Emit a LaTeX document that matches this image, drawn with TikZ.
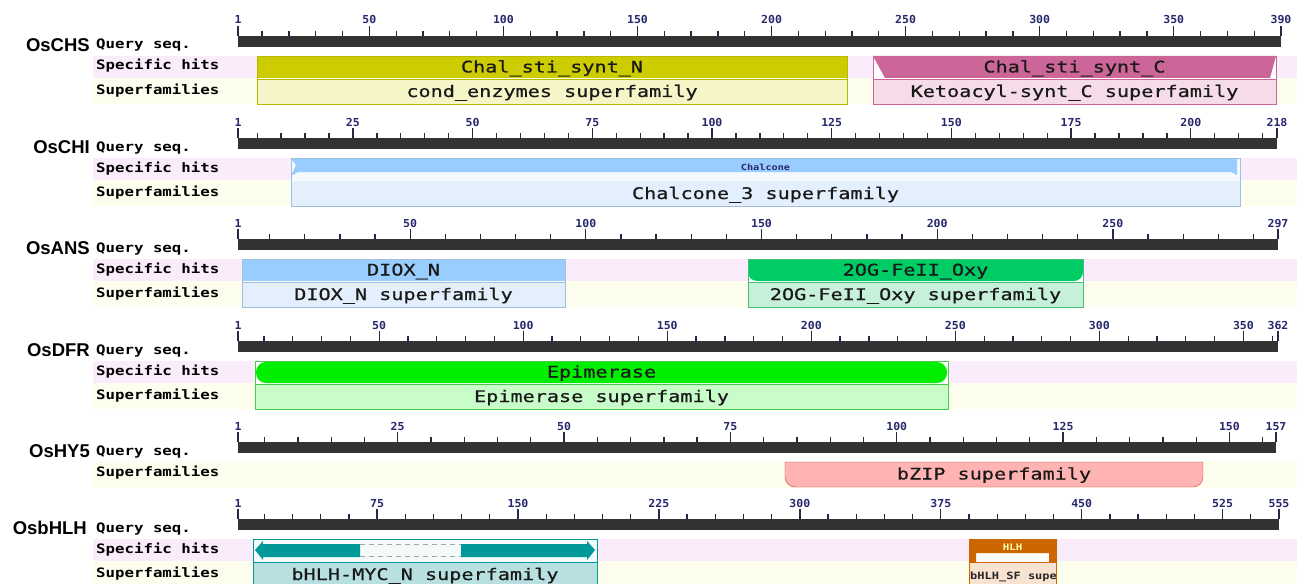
\documentclass[tikz,border=0pt]{standalone}
\usepackage{fontspec}
\setmonofont{DejaVu Sans Mono}
\newfontfamily\genefont{Liberation Sans}
\newfontfamily\labfont[FakeStretch=1.21]{DejaVu Sans Mono Bold}
\newfontfamily\domfont[FakeStretch=1.26,FakeBold=0.6]{DejaVu Sans Mono}
\newfontfamily\tinyfont[FakeStretch=1.2]{DejaVu Sans Mono Bold}
\newfontfamily\numfont[FakeStretch=1.05]{DejaVu Sans Mono Bold}
\definecolor{pinkband}{RGB}{251,236,251}
\definecolor{yelband}{RGB}{254,254,238}
\definecolor{barc}{RGB}{51,51,51}
\definecolor{tickc}{RGB}{40,40,70}
\definecolor{navy}{RGB}{40,40,110}
\definecolor{olivec}{RGB}{204,204,0}
\definecolor{olivel}{RGB}{245,245,200}
\definecolor{olived}{RGB}{185,185,0}
\definecolor{pinkc}{RGB}{204,102,153}
\definecolor{pinkl}{RGB}{245,220,232}
\definecolor{bluec}{RGB}{153,204,255}
\definecolor{bluel}{RGB}{227,239,252}
\definecolor{blued}{RGB}{160,192,224}
\definecolor{greenc}{RGB}{0,204,102}
\definecolor{greenl}{RGB}{198,240,218}
\definecolor{greend}{RGB}{70,190,120}
\definecolor{epic}{RGB}{0,238,0}
\definecolor{epil}{RGB}{200,252,200}
\definecolor{epid}{RGB}{70,204,70}
\definecolor{bzipc}{RGB}{255,179,179}
\definecolor{bzipd}{RGB}{200,70,70}
\definecolor{tealc}{RGB}{0,153,153}
\definecolor{teall}{RGB}{184,224,224}
\definecolor{hlhc}{RGB}{204,102,0}
\definecolor{hlhl}{RGB}{248,226,208}
\tikzset{
  gene/.style={font=\genefont\bfseries\fontsize{18.5}{18.5}\selectfont, anchor=base east, inner sep=0},
  rowlab/.style={font=\labfont\fontsize{13}{13}\selectfont, anchor=base west, inner sep=0},
  dom/.style={font=\domfont\fontsize{16}{16}\selectfont, anchor=base, inner sep=0, text=black!90},
  ticklab/.style={font=\numfont\fontsize{11}{11}\selectfont, text=navy, inner sep=0, anchor=base},
  tickline/.style={draw=tickc, line width=1.3},
  tinylab/.style={font=\tinyfont\fontsize{8.5}{8.5}\selectfont, anchor=base, inner sep=0},
}
% #1 name, #2 top of bar, #3 x end, #4 length, #5 minor step, #6 major step
\newcommand{\ruler}[6]{%
  \pgfmathsetmacro{\rsc}{(#3-238)/(#4-1)}%
  \fill[barc] (238,#2) rectangle (#3,#2+11);
  \draw[tickline] (238,#2) -- (238,#2-10);
  \node[ticklab] (#1-t1) at (238,#2-12) {1};
  \pgfmathtruncatemacro{\rnt}{floor((#4-1)/#5)}%
  \foreach \i in {1,...,\rnt}{%
    \pgfmathtruncatemacro{\rv}{\i*#5}%
    \pgfmathsetmacro{\rx}{238+(\rv-1)*\rsc}%
    \pgfmathtruncatemacro{\ism}{mod(\rv,#6)==0 ? 1 : 0}%
    \ifnum\ism=1
      \draw[tickline] (\rx,#2) -- (\rx,#2-10);
      \node[ticklab] (#1-t\rv) at (\rx,#2-12) {\rv};
    \else
      \draw[tickline] (\rx,#2) -- (\rx,#2-5);
    \fi
  }
  \draw[tickline] (#3,#2) -- (#3,#2-10);
  \node[ticklab] (#1-tend) at (#3,#2-12) {#4};
}
\begin{document}
\begin{tikzpicture}[x=1pt,y=-1pt]
\useasboundingbox (0,0) rectangle (1297,583);
\clip (0,0) rectangle (1297,583);
\fill[white] (0,0) rectangle (1297,583);

% ---------------- OsCHS ----------------
\def\T{36}
\fill[pinkband] (93,\T+20) rectangle (1297,\T+42);
\fill[yelband] (93,\T+42) rectangle (1297,\T+68);
\ruler{chs}{\T}{1281}{390}{10}{50}
\node[gene] (chs-g) at (90,\T+15.5) {OsCHS};
\node[rowlab] (chs-q) at (96,\T+13) {Query seq.};
\node[rowlab] (chs-s) at (96,\T+34) {Specific hits};
\node[rowlab] (chs-f) at (96,\T+58.5) {Superfamilies};
\fill[olivec] (257,\T+20) rectangle (847,\T+42);
\filldraw[draw=olived, fill=olivel] (257,\T+43) rectangle (847,\T+68);
\draw[olived] (257,\T+20) rectangle (847,\T+68);
\node[dom] (chs-d1) at (552,\T+36.5) {Chal\_sti\_synt\_N};
\node[dom] (chs-d2) at (552,\T+61) {cond\_enzymes superfamily};
\fill[white] (873,\T+20) rectangle (1276,\T+43);
\fill[pinkc] (873,\T+20) -- (1276,\T+20) -- (1270,\T+42) -- (885,\T+42) -- cycle;
\filldraw[draw=pinkc, fill=pinkl] (873,\T+43) rectangle (1276,\T+68);
\draw[pinkc] (873,\T+20) rectangle (1276,\T+68);
\node[dom] (chs-d3) at (1074.5,\T+36.5) {Chal\_sti\_synt\_C};
\node[dom] (chs-d4) at (1074.5,\T+61) {Ketoacyl-synt\_C superfamily};

% ---------------- OsCHI ----------------
\def\T{138}
\fill[pinkband] (93,\T+20) rectangle (1297,\T+42);
\fill[yelband] (93,\T+42) rectangle (1297,\T+68);
\ruler{chi}{\T}{1277}{218}{5}{25}
\node[gene] (chi-g) at (90,\T+15.5) {OsCHI};
\node[rowlab] (chi-q) at (96,\T+13) {Query seq.};
\node[rowlab] (chi-s) at (96,\T+34) {Specific hits};
\node[rowlab] (chi-f) at (96,\T+58.5) {Superfamilies};
\fill[white!60!bluel] (291,\T+20) rectangle (1240,\T+43);
\fill[bluec] (291,\T+21) -- (1237,\T+21) -- (1237,\T+37) -- (1231,\T+34) -- (298,\T+34) -- (291,\T+38) -- (296,\T+27) -- cycle;
\fill[bluel] (291,\T+43) rectangle (1240,\T+68);
\draw[blued] (291,\T+20) rectangle (1240,\T+68);
\node[tinylab, text=navy] (chi-d1) at (765.5,\T+32) {Chalcone};
\node[dom] (chi-d2) at (765.5,\T+61) {Chalcone\_3 superfamily};

% ---------------- OsANS ----------------
\def\T{239}
\fill[pinkband] (93,\T+20) rectangle (1297,\T+42);
\fill[yelband] (93,\T+42) rectangle (1297,\T+68);
\ruler{ans}{\T}{1278}{297}{10}{50}
\node[gene] (ans-g) at (90,\T+15.5) {OsANS};
\node[rowlab] (ans-q) at (96,\T+13) {Query seq.};
\node[rowlab] (ans-s) at (96,\T+34) {Specific hits};
\node[rowlab] (ans-f) at (96,\T+58.5) {Superfamilies};
\fill[bluec] (242,\T+20) rectangle (565,\T+42);
\filldraw[draw=blued, fill=bluel] (242,\T+43) rectangle (565,\T+68);
\draw[blued] (242,\T+20) rectangle (565,\T+68);
\node[dom] (ans-d1) at (403.5,\T+36.5) {DIOX\_N};
\node[dom] (ans-d2) at (403.5,\T+61) {DIOX\_N superfamily};
\fill[white] (748,\T+20) rectangle (1083,\T+43);
\fill[greenc] (748,\T+20) -- (1083,\T+20) -- (1083,\T+33) arc[start angle=0,end angle=90,radius=9] -- (757,\T+42) arc[start angle=90,end angle=180,radius=9] -- cycle;
\filldraw[draw=greend, fill=greenl] (748,\T+43) rectangle (1083,\T+68);
\draw[greend] (748,\T+20) rectangle (1083,\T+68);
\node[dom] (ans-d3) at (915.5,\T+36.5) {2OG-FeII\_Oxy};
\node[dom] (ans-d4) at (915.5,\T+61) {2OG-FeII\_Oxy superfamily};

% ---------------- OsDFR ----------------
\def\T{341}
\fill[pinkband] (93,\T+20) rectangle (1297,\T+42);
\fill[yelband] (93,\T+42) rectangle (1297,\T+68);
\ruler{dfr}{\T}{1278}{362}{10}{50}
\node[gene] (dfr-g) at (90,\T+15.5) {OsDFR};
\node[rowlab] (dfr-q) at (96,\T+13) {Query seq.};
\node[rowlab] (dfr-s) at (96,\T+34) {Specific hits};
\node[rowlab] (dfr-f) at (96,\T+58.5) {Superfamilies};
\fill[white] (255,\T+20) rectangle (948,\T+43);
\fill[epic, rounded corners=10] (256,\T+21) rectangle (947,\T+42);
\filldraw[draw=epid, fill=epil] (255,\T+43) rectangle (948,\T+68);
\draw[epid] (255,\T+20) rectangle (948,\T+68);
\node[dom] (dfr-d1) at (601.5,\T+36.5) {Epimerase};
\node[dom] (dfr-d2) at (601.5,\T+61) {Epimerase superfamily};

% ---------------- OsHY5 ----------------
\def\T{442}
\fill[yelband] (93,\T+19) rectangle (1297,\T+46);
\ruler{hy5}{\T}{1276}{157}{5}{25}
\node[gene] (hy5-g) at (90,\T+15.5) {OsHY5};
\node[rowlab] (hy5-q) at (96,\T+13) {Query seq.};
\node[rowlab] (hy5-f) at (96,\T+34) {Superfamilies};
\filldraw[draw=bzipd, fill=bzipc] (785,\T+20) -- (1203,\T+20) -- (1203,\T+35) arc[start angle=0,end angle=90,radius=10] -- (795,\T+45) arc[start angle=90,end angle=180,radius=10] -- cycle;
\node[dom] (hy5-d1) at (994,\T+37.5) {bZIP superfamily};

% ---------------- OsbHLH ----------------
\def\T{519}
\fill[pinkband] (93,\T+20) rectangle (1297,\T+42);
\fill[yelband] (93,\T+42) rectangle (1297,\T+68);
\ruler{bhlh}{\T}{1279}{555}{15}{75}
\node[gene] (bhlh-g) at (87,\T+15.5) {OsbHLH};
\node[rowlab] (bhlh-q) at (96,\T+13) {Query seq.};
\node[rowlab] (bhlh-s) at (96,\T+34) {Specific hits};
\node[rowlab] (bhlh-f) at (96,\T+58.5) {Superfamilies};
\fill[white!85!teall] (253,\T+20) rectangle (597,\T+43);
\fill[tealc] (255,\T+31) -- (263,\T+22) -- (263,\T+25) -- (360,\T+25) -- (360,\T+38) -- (263,\T+38) -- (263,\T+41) -- cycle;
\fill[tealc] (595,\T+31) -- (587,\T+22) -- (587,\T+25) -- (461,\T+25) -- (461,\T+38) -- (587,\T+38) -- (587,\T+41) -- cycle;
\draw[gray!70, dash pattern=on 5pt off 4pt, line width=1] (360,\T+25.5) -- (461,\T+25.5);
\draw[gray!70, dash pattern=on 5pt off 4pt, line width=1] (360,\T+37.5) -- (461,\T+37.5);
\draw[white, line width=0.8] (263,\T+24) -- (360,\T+24) (461,\T+24) -- (587,\T+24);
\filldraw[draw=tealc, fill=teall] (253,\T+43) rectangle (597,\T+70);
\draw[tealc] (253,\T+20) rectangle (597,\T+70);
\node[dom] (bhlh-d1) at (425,\T+61) {bHLH-MYC\_N superfamily};
\fill[white!90!hlhl] (969,\T+20) rectangle (1056,\T+43);
\fill[hlhc] (969,\T+20) -- (1056,\T+20) -- (1056,\T+43) -- (1049,\T+43) -- (1049,\T+34) -- (976,\T+34) -- (976,\T+43) -- (969,\T+43) -- cycle;
\filldraw[draw=hlhc, fill=hlhl] (969,\T+43) rectangle (1056,\T+70);
\draw[hlhc] (969,\T+20) rectangle (1056,\T+70);
\node[tinylab, text=yellow!30!white, font=\tinyfont\fontsize{9}{9}\selectfont] (bhlh-d2) at (1012.5,\T+31) {HLH};
\begin{scope}
\clip (969.5,\T+43) rectangle (1055.5,\T+70);
\node[tinylab, text=black!85, anchor=base west, font=\tinyfont\fontsize{10}{10}\selectfont] (bhlh-d3) at (970,\T+60) {bHLH\_SF superfamily};
\end{scope}
\end{tikzpicture}
\end{document}
